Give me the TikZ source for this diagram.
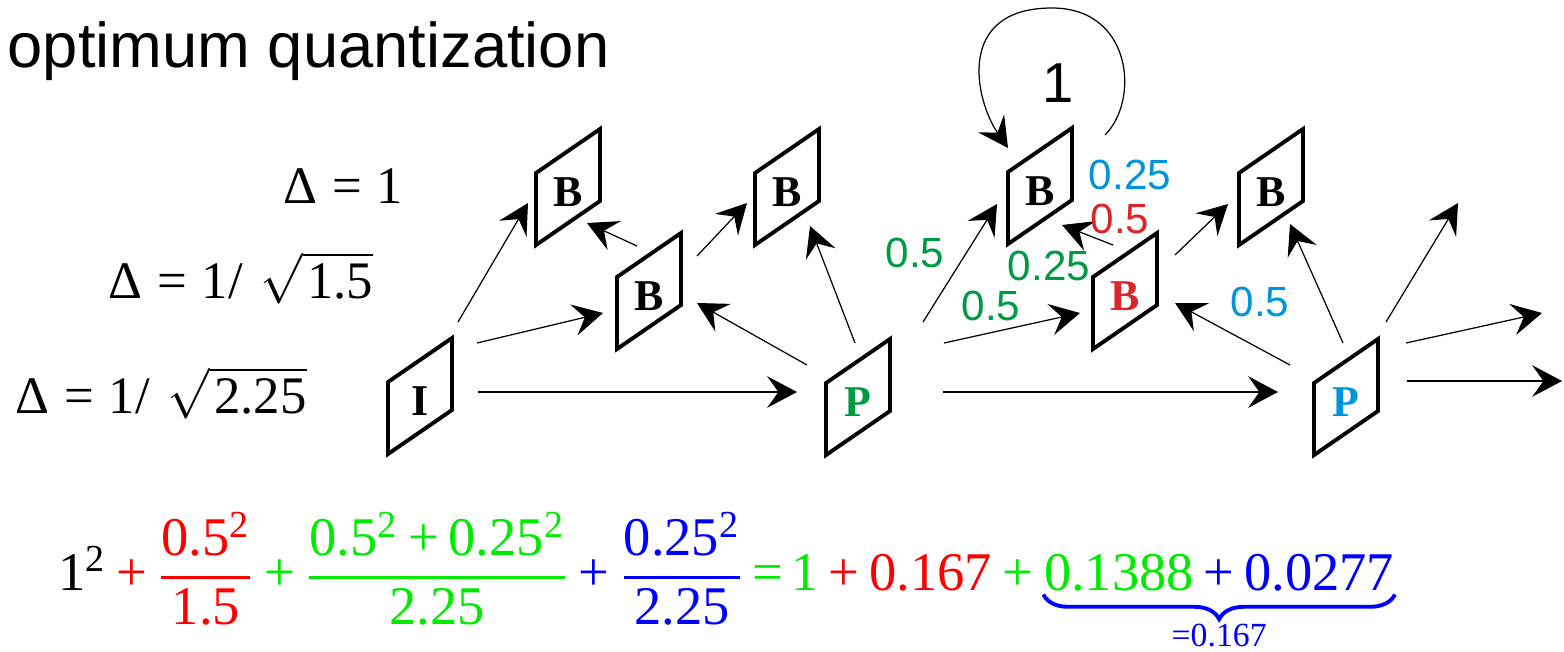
\documentclass[tikz,border=0pt]{standalone}
\usepackage{fontspec}
\setmainfont{Liberation Serif}
\newfontfamily\timesfont{Liberation Serif}
\newfontfamily\arialfont{Liberation Sans}
\usetikzlibrary{arrows.meta,decorations.pathreplacing}

\definecolor{labgreen}{RGB}{0,153,68}
\definecolor{labblue}{RGB}{0,148,218}
\definecolor{labred}{RGB}{218,37,41}
\definecolor{eqred}{RGB}{255,0,0}
\definecolor{eqgreen}{RGB}{0,235,0}
\definecolor{eqblue}{RGB}{0,0,255}

\newcommand\tx[1]{\mbox{\timesfont #1}}
\newcommand\sqd[1]{\mbox{\timesfont #1\textsuperscript{2}}}
\newcommand\fr[2]{{{#1}\above0.75pt{#2}}}

\begin{document}
\begin{tikzpicture}[
    x=0.01cm, y=-0.01cm,
lnk/.style={-{Stealth[length=8.5pt,width=9pt,inset=3.2pt]}, line width=0.35pt},
frm/.style={inner sep=0pt, font=\timesfont\fontsize{12.5}{14}\selectfont\bfseries},
frmline/.style={line width=1.1pt, line join=miter},
lab/.style={inner sep=0pt, font=\arialfont\fontsize{12}{14}\selectfont},
delta/.style={anchor=base west, inner sep=0pt, font=\timesfont\fontsize{15}{18}\selectfont},
eqtxt/.style={anchor=base west, inner sep=0pt, font=\timesfont\fontsize{15.5}{18}\selectfont},
]
\useasboundingbox (0,0) rectangle (1564,651);

\node[anchor=base west, inner sep=0pt, font=\arialfont\fontsize{18}{22}\selectfont] (title) at (7,67) {optimum quantization};

\node[delta] (d1) at (283,203) {Δ\hspace{.28em}=\hspace{.28em}1};
\node[delta] (d2) at (108,298) {Δ\hspace{.28em}=\hspace{.28em}1/\hspace{.34em}$\sqrt{\hspace{.08em}\tx{1.5}}$};
\node[delta] (d3) at (15,413) {Δ\hspace{.28em}=\hspace{.28em}1/\hspace{.34em}$\sqrt{\hspace{.08em}\tx{2.25}}$};

% frames
\node[frm] (I) at (420,401) {I};
\node[frm] (B1) at (568,192) {B};
\node[frm] (B2) at (649,296) {B};
\node[frm] (B3) at (787,192) {B};
\node[frm, text=labgreen] (P1) at (858,402) {P};
\node[frm] (B4) at (1040,191) {B};
\node[frm, text=labred] (B5) at (1125,296) {B};
\node[frm] (B6) at (1271,192) {B};
\node[frm, text=labblue] (P2) at (1346,402) {P};
\foreach \f in {I,B1,B2,B3,P1,B4,B5,B6,P2}
  \draw[frmline] ([shift={(-32,53)}]\f.center) -- ++(0,-72) -- ++(64,-44) -- ++(0,72) -- cycle;

\coordinate (out1) at (1458,203);
\coordinate (out2) at (1542,313);
\coordinate (out3) at (1562,381);

% references
\draw[lnk] ([shift={(58,-9)}]I.center) -- ([shift={(-61,-10)}]P1.center);
\draw[lnk] ([shift={(57,-58)}]I.center) -- ([shift={(-46,17)}]B2.center);
\draw[lnk] ([shift={(38,-79)}]I.center) -- ([shift={(-40,11)}]B1.center);
\draw[lnk] ([shift={(-12,-50)}]B2.center) -- ([shift={(19,31)}]B1.center);
\draw[lnk] ([shift={(48,-40)}]B2.center) -- ([shift={(-40,11)}]B3.center);
\draw[lnk] ([shift={(-51,-37)}]P1.center) -- ([shift={(48,7)}]B2.center);
\draw[lnk] ([shift={(-3,-59)}]P1.center) -- ([shift={(23,34)}]B3.center);
\draw[lnk] ([shift={(65,-80)}]P1.center) -- ([shift={(-43,13)}]B4.center);
\draw[lnk] ([shift={(86,-59)}]P1.center) -- ([shift={(-45,17)}]B5.center);
\draw[lnk] ([shift={(-12,-51)}]B5.center) -- ([shift={(22,34)}]B4.center);
\draw[lnk] ([shift={(50,-41)}]B5.center) -- ([shift={(-43,12)}]B6.center);
\draw[lnk] ([shift={(-56,-37)}]P2.center) -- ([shift={(50,7)}]B5.center);
\draw[lnk] ([shift={(85,-10)}]P1.center) -- ([shift={(-68,-10)}]P2.center);
\draw[lnk] ([shift={(-3,-59)}]P2.center) -- ([shift={(19,32)}]B6.center);
\draw[lnk] ([shift={(40,-80)}]P2.center) -- (out1);
\draw[lnk] ([shift={(60,-59)}]P2.center) -- (out2);
\draw[lnk] ([shift={(61,-21)}]P2.center) -- (out3);
\draw[lnk] ([shift={(65,-56)}]B4.center) .. controls +(35,-35) and +(80,0) .. ++(-53,-127)
  .. controls +(-97,0) and +(-33,-48) .. ([shift={(-32,-43)}]B4.center);

\node[lab, font=\arialfont\fontsize{16}{18}\selectfont] (one) at (1058,83) {1};
\node[lab, text=labgreen] (w1) at (915,253) {0.5};
\node[lab, text=labgreen] (w2) at (991,306) {0.5};
\node[lab, text=labgreen] (w3) at (1049,266) {0.25};
\node[lab, text=labblue] (w4) at (1130,175) {0.25};
\node[lab, text=labred] (w5) at (1120,219) {0.5};
\node[lab, text=labblue] (w6) at (1260,302) {0.5};

% bottom sum
\node[eqtxt] (eq) at (58,590) {$\medmuskip=3.5mu \thickmuskip=3mu \displaystyle
  \sqd{1} \mathbin{\tx{\color{eqred}+}} {\color{eqred}\fr{\sqd{0.5}}{\tx{1.5}}}
  \mathbin{\tx{\color{eqgreen}+}} {\color{eqgreen}\fr{\sqd{0.5}\mathbin{\tx{+}}\sqd{0.25}}{\tx{2.25}}}
  \mathbin{\tx{\color{eqblue}+}} {\color{eqblue}\fr{\sqd{0.25}}{\tx{2.25}}}
  \mathrel{\tx{\color{eqgreen}=}} \tx{\color{eqgreen}1} \mathbin{\tx{\color{eqred}+}} \tx{\color{eqred}0.167}
  \mathbin{\tx{\color{eqgreen}+}}{}$};
\node[eqtxt, text=eqblue] (sum) at (eq.base east) {$\medmuskip=3.5mu \tx{\color{eqgreen}0.1388}\mathbin{\tx{+}}\tx{0.0277}$};
\draw[eqblue, line width=1.1pt, decorate, decoration={brace, mirror, amplitude=7pt}]
  ([shift={(0,3)}]sum.south west) -- ([shift={(0,3)}]sum.south east);
\node[inner sep=0pt, text=eqblue, font=\timesfont\fontsize{9.6}{11}\selectfont] (tot) at ([shift={(0,44)}]sum.south) {=0.167};
\end{tikzpicture}
\end{document}
